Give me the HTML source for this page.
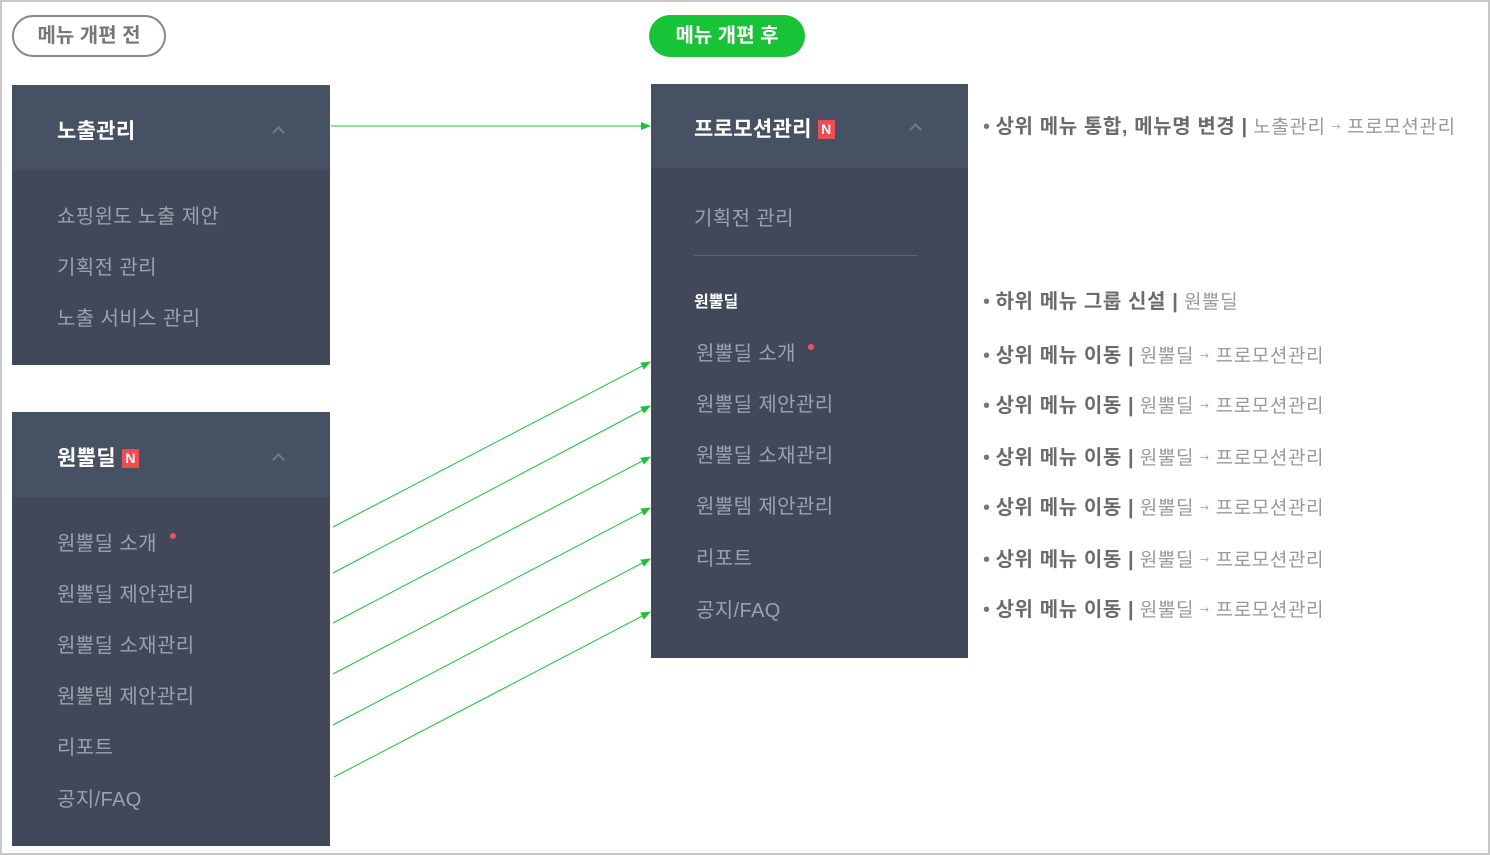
<!DOCTYPE html>
<html><head><meta charset="utf-8"><style>
body{margin:0;width:1490px;height:855px;background:#fff;position:relative;overflow:hidden;font-family:"Liberation Sans","Noto Sans CJK KR",sans-serif}
.frame{position:absolute;left:0;top:0;width:1486px;height:851px;border:2px solid #c8c8c8}
.abs{position:absolute;white-space:nowrap}
.panel{position:absolute;background:#414859}
.hd{position:absolute;left:0;right:0;top:0;background:#465264}
.ht{position:absolute;color:#fff;font-size:21px;font-weight:bold;letter-spacing:0.3px}
.it{position:absolute;color:#9ba2ad;font-size:20px;letter-spacing:0.4px;white-space:nowrap}
.car{position:absolute;width:7px;height:7px;border-left:2px solid #6f7a8a;border-top:2px solid #6f7a8a;transform:rotate(45deg)}
.N{display:inline-block;background:#ef4b55;color:#fff;font-size:14px;font-weight:bold;width:17px;height:19px;line-height:19px;text-align:center;vertical-align:2px;margin-left:6px;letter-spacing:0}
.dot{position:absolute;width:6px;height:6px;border-radius:3px;background:#f0505a}
.note{position:absolute;font-size:20px;color:#777;white-space:nowrap}
.note b{color:#6b6b6b;letter-spacing:0.6px}
.note span{color:#999;font-size:19px;letter-spacing:0.6px}
.note i{font-style:normal;font-family:"DejaVu Sans",sans-serif;font-size:11px;color:#aaa;vertical-align:3px}
</style></head><body>
<div class="frame"></div>
<div class="abs" style="left:12px;top:15px;width:150px;height:38px;border:2px solid #888;border-radius:21px;color:#777;font-size:20px;font-weight:bold;text-align:center;line-height:38px">메뉴 개편 전</div>
<div class="abs" style="left:649px;top:15px;width:156px;height:42px;background:#19c337;border-radius:21px;color:#fff;font-size:20px;font-weight:bold;text-align:center;line-height:42px">메뉴 개편 후</div>

<div class="panel" style="left:12px;top:85px;width:318px;height:280px">
<div class="hd" style="height:85px"></div>
<div class="ht" style="left:45px;top:30px">노출관리</div>
<div class="car" style="left:262px;top:43px"></div>
<div class="it" style="left:45px;top:115px">쇼핑윈도 노출 제안</div>
<div class="it" style="left:45px;top:166px">기획전 관리</div>
<div class="it" style="left:45px;top:217px">노출 서비스 관리</div>
</div>

<div class="panel" style="left:12px;top:412px;width:318px;height:434px">
<div class="hd" style="height:85px"></div>
<div class="ht" style="left:45px;top:30px">원뿔딜<span class="N">N</span></div>
<div class="car" style="left:262px;top:43px"></div>
<div class="it" style="left:45px;top:115px">원뿔딜 소개</div><div class="dot" style="left:158px;top:121px"></div>
<div class="it" style="left:45px;top:166px">원뿔딜 제안관리</div>
<div class="it" style="left:45px;top:217px">원뿔딜 소재관리</div>
<div class="it" style="left:45px;top:268px">원뿔템 제안관리</div>
<div class="it" style="left:45px;top:319px">리포트</div>
<div class="it" style="left:45px;top:371px">공지/FAQ</div>
</div>

<div class="panel" style="left:651px;top:84px;width:317px;height:574px">
<div class="hd" style="height:84px"></div>
<div class="ht" style="left:43px;top:29px">프로모션관리<span class="N">N</span></div>
<div class="car" style="left:260px;top:41px"></div>
<div class="it" style="left:43px;top:118px">기획전 관리</div>
<div class="abs" style="left:43px;top:171px;width:224px;height:1px;background:#56607a"></div>
<div class="abs" style="left:43px;top:204px;color:#fff;font-size:16px;font-weight:bold">원뿔딜</div>
<div class="it" style="left:45px;top:253px">원뿔딜 소개</div><div class="dot" style="left:157px;top:260px"></div>
<div class="it" style="left:45px;top:304px">원뿔딜 제안관리</div>
<div class="it" style="left:45px;top:355px">원뿔딜 소재관리</div>
<div class="it" style="left:45px;top:406px">원뿔템 제안관리</div>
<div class="it" style="left:45px;top:458px">리포트</div>
<div class="it" style="left:45px;top:510px">공지/FAQ</div>
</div>

<svg class="abs" style="left:0;top:0" width="1490" height="855">
<defs><marker id="a" markerWidth="10" markerHeight="8" refX="9" refY="4" orient="auto" markerUnits="userSpaceOnUse"><path d="M0,0 L10,4 L0,8z" fill="#19c337"/></marker></defs>
<g stroke="#19c337" stroke-width="1" marker-end="url(#a)">
<line x1="331" y1="126" x2="650" y2="126"/>
<line x1="333" y1="527" x2="650" y2="362"/>
<line x1="333" y1="573" x2="650" y2="406"/>
<line x1="333" y1="623" x2="650" y2="457"/>
<line x1="333" y1="674" x2="650" y2="508"/>
<line x1="333" y1="725" x2="650" y2="559"/>
<line x1="334" y1="777" x2="650" y2="612"/>
</g></svg>

<div class="note" style="left:983px;top:110px">• <b>상위 메뉴 통합, 메뉴명 변경 |</b> <span>노출관리 <i>→</i> 프로모션관리</span></div>
<div class="note" style="left:983px;top:285px">• <b>하위 메뉴 그룹 신설 |</b> <span>원뿔딜</span></div>
<div class="note" style="left:983px;top:339px">• <b>상위 메뉴 이동 |</b> <span>원뿔딜 <i>→</i> 프로모션관리</span></div>
<div class="note" style="left:983px;top:389px">• <b>상위 메뉴 이동 |</b> <span>원뿔딜 <i>→</i> 프로모션관리</span></div>
<div class="note" style="left:983px;top:441px">• <b>상위 메뉴 이동 |</b> <span>원뿔딜 <i>→</i> 프로모션관리</span></div>
<div class="note" style="left:983px;top:491px">• <b>상위 메뉴 이동 |</b> <span>원뿔딜 <i>→</i> 프로모션관리</span></div>
<div class="note" style="left:983px;top:543px">• <b>상위 메뉴 이동 |</b> <span>원뿔딜 <i>→</i> 프로모션관리</span></div>
<div class="note" style="left:983px;top:593px">• <b>상위 메뉴 이동 |</b> <span>원뿔딜 <i>→</i> 프로모션관리</span></div>
</body></html>
